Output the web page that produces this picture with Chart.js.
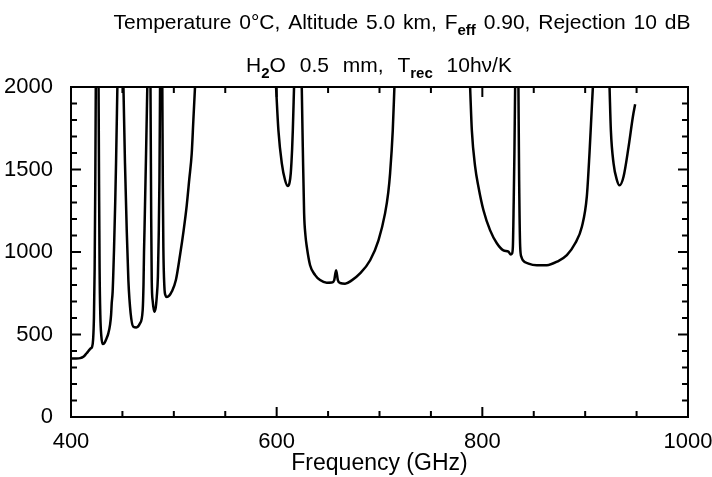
<!DOCTYPE html>
<html><head><meta charset="utf-8">
<script src="https://cdn.jsdelivr.net/npm/chart.js@4/dist/chart.umd.min.js"></script>
<style>html,body{margin:0;padding:0;background:#fff;}#wrap{width:712px;height:477px;}</style>
</head><body><div id="wrap"><canvas id="c" width="712" height="477"></canvas></div>
<script>
// Frequency (GHz) and receiver-limited system temperature (K); null = off scale (above 2000)
const freqGHz = [
 400,405,409,412,415,417,419,420.5,421.5,422.3,423,423.6,424.1, 425.5,
 426.8,427.3,427.8,428.5,429.5,430.8,432.5,434.5,436.3,438,439,439.6,440.5,441.9,443,443.8,445.1, 448,
 451,452.5,454.2,455.8,458,460.6,463.5,467,469.7,470.5,471,471.5,473,474.2, 475.5,
 477.3,478,478.5,479.5,480.9,482.3,483.4,484.5,485.3,486,486.6, 487.5,
 488.8,489.3,489.8,490.8,492,493.1,495.5,498,502,506,509.5,512.5,515,517.4,519,520.6, 560,
 599.4,601.7,605,608.2,610.8,612.5,613.7,615,615.7,616.9, 620.7,
 624.4,625,625.4,626.7,628,629.3,632.5,637.4,642.2,648.7,653.6,656,657.8,659.5,661.7,666.5,673,681.1,690.9,699,705.4,708.5,710.3,712.9,714.5, 752,
 788.1,789.8,793,796.2,801.1,807.6,814.1,820.5,825.4,827.7,828.8,829.7,830.5,831.2,831.9, 834,
 835.1,835.8,836.8,838,839.4,844.9,853,862.7,872.5,882.2,890.3,896.8,901.6,904.2,906.5,907.5, 916,
 923.7,925,927.6,930.9,933.4,937.3,942.2,946.4,948.6
];
const trecK = [
 355,355,357,365,385,400,415,425,470,600,900,1400,2000, null,
 2000,1400,900,620,490,442,448,475,507,560,620,690,760,1030,1300,1537,2000, null,
 2000,1537,1131,828,628,547,543,566,647,800,1000,1140,1600,2000, null,
 2000,1200,830,700,638,660,729,850,1100,1435,2000, null,
 2000,1400,1032,790,735,727,735,760,830,980,1130,1280,1440,1597,1800,2000, null,
 2000,1737,1537,1435,1400,1420,1477,1620,1737,2000, null,
 2000,1780,1637,1234,1100,1032,920,860,830,814,815,830,890,830,812,808,828,870,950,1071,1234,1360,1477,1737,2000, null,
 2000,1737,1517,1396,1253,1131,1053,1010,1002,985,990,1032,1300,1600,2000, null,
 2000,1435,1032,970,950,930,920,920,941,981,1053,1153,1335,1597,1880,2000, null,
 2000,1737,1537,1435,1404,1456,1637,1820,1895
];
const xTickValues = [400, 600, 800, 1000];
const yTickValues = [0, 500, 1000, 1500, 2000];
const xMinorStep = 50, yMinorStep = 100;
const titleLine1 = [["Temperature 0°C, Altitude 5.0 km, F", false], ["eff", true], [" 0.90, Rejection 10 dB", false]];
const titleLine2 = [["H", false], ["2", true], ["O 0.5 mm, T", false], ["rec", true], [" 10hν/K", false]];
const xTitle = "Frequency (GHz)";

const FONT = "'Liberation Sans', Arial, sans-serif";
const points = freqGHz.map((f, i) => ({x: f, y: trecK[i]}));

function drawRich(ctx, segs, cx, y, size, wsp) {
  const main = size + "px " + FONT, sub = "bold " + Math.round(size * 0.72) + "px " + FONT;
  ctx.wordSpacing = wsp + "px";
  let w = 0;
  segs.forEach(([t, s]) => { ctx.font = s ? sub : main; w += ctx.measureText(t).width; });
  let x = cx - w / 2;
  ctx.textBaseline = "alphabetic"; ctx.textAlign = "left"; ctx.fillStyle = "#000";
  segs.forEach(([t, s]) => {
    ctx.font = s ? sub : main;
    ctx.fillText(t, x, s ? y + size * 0.3 : y);
    x += ctx.measureText(t).width;
  });
  ctx.wordSpacing = "0px";
}

const framePlugin = {
  id: "frame",
  afterDraw(chart) {
    const ctx = chart.ctx, a = chart.chartArea, xs = chart.scales.x, ys = chart.scales.y;
    ctx.save();
    ctx.strokeStyle = "#000"; ctx.lineWidth = 2;
    ctx.strokeRect(a.left, a.top, a.right - a.left, a.bottom - a.top);
    ctx.beginPath();
    for (let v = xs.min; v <= xs.max + 1e-9; v += xMinorStep) {
      const px = xs.getPixelForValue(v), L = xTickValues.includes(v) ? 10 : 6;
      ctx.moveTo(px, a.bottom); ctx.lineTo(px, a.bottom - L);
      ctx.moveTo(px, a.top); ctx.lineTo(px, a.top + L);
    }
    for (let v = ys.min; v <= ys.max + 1e-9; v += yMinorStep) {
      const py = ys.getPixelForValue(v), L = yTickValues.includes(v) ? 10 : 6;
      ctx.moveTo(a.left, py); ctx.lineTo(a.left + L, py);
      ctx.moveTo(a.right, py); ctx.lineTo(a.right - L, py);
    }
    ctx.stroke();
    drawRich(ctx, titleLine1, 402, 29, 21, 2);
    drawRich(ctx, titleLine2, 379, 72, 21, 8);
    ctx.restore();
  }
};

new Chart(document.getElementById("c"), {
  type: "line",
  data: { datasets: [{ data: points, borderColor: "#000", borderWidth: 2.5, pointRadius: 0,
    cubicInterpolationMode: "monotone", spanGaps: false, fill: false }] },
  options: {
    responsive: false, animation: false, devicePixelRatio: 1,
    layout: { padding: { top: 87, right: 24, bottom: 0, left: 0 } },
    plugins: { legend: { display: false }, tooltip: { enabled: false }, title: { display: false } },
    scales: {
      x: { type: "linear", min: 400, max: 1000,
        afterBuildTicks: s => { s.ticks = xTickValues.map(v => ({value: v})); },
        afterFit: s => { s.height = 60; s.paddingRight = 0; s.paddingLeft = 0; },
        grid: { display: false }, border: { display: false },
        ticks: { color: "#000", font: { family: FONT, size: 22 }, padding: 4, maxRotation: 0, callback: v => String(v) },
        title: { display: true, text: xTitle, color: "#000", font: { family: FONT, size: 23 }, padding: { top: 2, bottom: 0 } } },
      y: { type: "linear", min: 0, max: 2000,
        afterBuildTicks: s => { s.ticks = yTickValues.map(v => ({value: v})); },
        afterFit: s => { s.width = 71; s.paddingTop = 0; s.paddingBottom = 0; },
        grid: { display: false }, border: { display: false },
        ticks: { color: "#000", font: { family: FONT, size: 22 }, padding: 10, callback: v => String(v) } }
    }
  },
  plugins: [framePlugin]
});
</script></body></html>
